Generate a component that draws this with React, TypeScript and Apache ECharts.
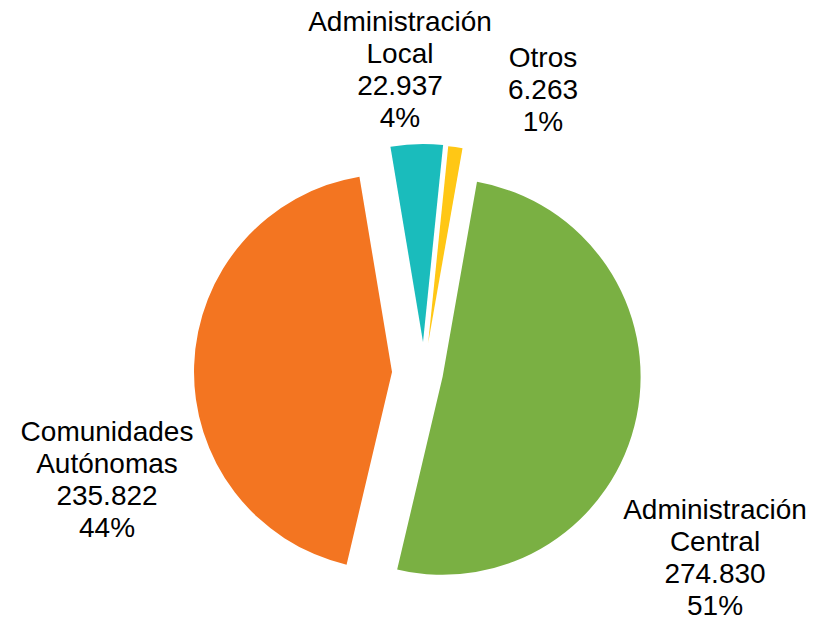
import React, { useEffect, useRef } from "react";
import * as echarts from "echarts";

const categories = [
  "Administración Central",
  "Comunidades Autónomas",
  "Administración Local",
  "Otros",
];
const values = [274830, 235822, 22937, 6263];
const colors = ["#7AB043", "#F37521", "#1ABCBC", "#FFC715"];
// explosion distance per slice (px)
const explode = [19, 32, 31, 30];
// label block centres (px)
const labelPos = [
  [715, 557],
  [107, 479],
  [400, 69],
  [543, 89],
];

const fmt = (v: number) => v.toString().replace(/\B(?=(\d{3})+(?!\d))/g, ".");

const base = {
  type: "pie",
  center: [424, 373],
  radius: 198,
  startAngle: 80,
  clockwise: true,
  silent: true,
  avoidLabelOverlap: false,
  emphasis: { disabled: true },
  labelLine: { show: false },
};

export default function App() {
  const ref = useRef<HTMLDivElement>(null);
  useEffect(() => {
    if (!ref.current) return;
    const chart = echarts.init(ref.current, undefined, { renderer: "svg" });
    const series: any[] = categories.map((_, si) => ({
      ...base,
      selectedMode: "single",
      selectedOffset: explode[si],
      label: { show: false },
      data: categories.map((name, i) => ({
        name,
        value: values[i],
        selected: i === si,
        itemStyle: {
          color: i === si ? colors[i] : "rgba(0,0,0,0)",
          borderWidth: 0,
        },
      })),
    }));
    series.push({
      ...base,
      selectedMode: false,
      z: 5,
      label: {
        show: true,
        color: "#000",
        fontFamily: "Liberation Sans, Arial, sans-serif",
        fontSize: 28,
        lineHeight: 32,
        align: "center",
        formatter: (p: any) =>
          p.name.replace(" ", "\n") + "\n" + fmt(p.value) + "\n" + Math.round(p.percent) + "%",
      },
      labelLayout: (p: any) => ({
        x: labelPos[p.dataIndex][0],
        y: labelPos[p.dataIndex][1],
        align: "center",
        verticalAlign: "middle",
      }),
      data: categories.map((name, i) => ({
        name,
        value: values[i],
        itemStyle: { color: "rgba(0,0,0,0)", borderWidth: 0 },
      })),
    });
    chart.setOption({
      animation: false,
      backgroundColor: "#fff",
      series,
    } as any);
    return () => chart.dispose();
  }, []);
  return (
    <div
      ref={ref}
      style={{ position: "fixed", left: 0, top: 0, width: 817, height: 620 }}
    />
  );
}
